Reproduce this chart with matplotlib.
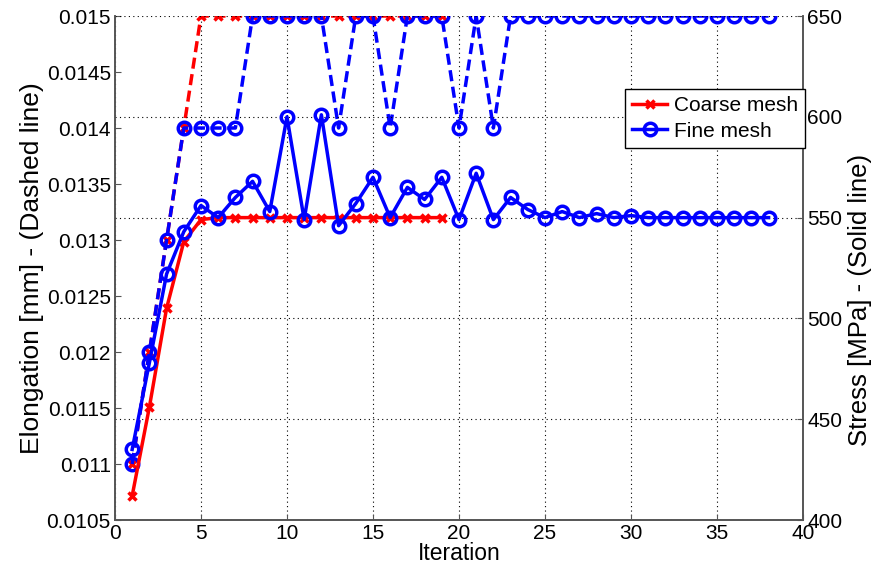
import numpy as np
import matplotlib
matplotlib.use("Agg")
import matplotlib.pyplot as plt

plt.rcParams['font.family'] = ['Liberation Sans', 'DejaVu Sans']

# iterations
it_coarse = list(range(1, 20))
it_fine = list(range(1, 39))

# elongation [mm] (dashed, left axis)
elong_coarse = [0.011, 0.012, 0.013, 0.014] + [0.015] * 15
elong_fine = [0.011, 0.012, 0.013, 0.014, 0.014, 0.014, 0.014,
              0.015, 0.015, 0.015, 0.015, 0.015, 0.014, 0.015, 0.015,
              0.014, 0.015, 0.015, 0.015, 0.014, 0.015, 0.014] + [0.015] * 16

# stress [MPa] (solid, right axis)
stress_coarse = [412, 456, 505, 538, 549] + [550] * 14
stress_fine = [435, 478, 522, 543, 556, 550, 560, 568, 553, 600,
               549, 601, 546, 557, 570, 550, 565, 559, 570, 549,
               572, 549, 560, 554, 550, 553, 550, 552, 550, 551,
               550, 550, 550, 550, 550, 550, 550, 550]

left_ticks = [0.0105, 0.011, 0.0115, 0.012, 0.0125, 0.013, 0.0135, 0.014, 0.0145, 0.015]
left_labels = ['0.0105', '0.011', '0.0115', '0.012', '0.0125', '0.013', '0.0135', '0.014', '0.0145', '0.015']
right_ticks = [400, 450, 500, 550, 600, 650]
x_ticks = [0, 5, 10, 15, 20, 25, 30, 35, 40]

RED = '#ff0000'
BLUE = '#0000ff'
SPINE = '#555555'
FS = 15

fig = plt.figure(figsize=(8.75, 5.68), dpi=100)
ax1 = fig.add_axes([0.1314, 0.0845, 0.7863, 0.8873])
ax2 = ax1.twinx()

dash = (3.2, 1.6)
lw = 2.5
ax1.plot(it_coarse, elong_coarse, color=RED, lw=lw, dashes=dash,
         marker='x', ms=6, mew=2.5)
ax1.plot(it_fine, elong_fine, color=BLUE, lw=lw, dashes=dash,
         marker='o', ms=9, mew=2.5, mfc='none')

l1, = ax2.plot(it_coarse, stress_coarse, color=RED, lw=lw, ls='-',
               marker='x', ms=6, mew=2.5, label='Coarse mesh')
l2, = ax2.plot(it_fine, stress_fine, color=BLUE, lw=lw, ls='-',
               marker='o', ms=9, mew=2.5, mfc='none', label='Fine mesh')

ax1.set_xlim(0, 40)
ax1.set_ylim(0.0105, 0.015)
ax2.set_ylim(400, 650)

ax1.set_xticks(x_ticks)
ax1.set_yticks(left_ticks)
ax1.set_yticklabels(left_labels)
ax2.set_yticks(right_ticks)

ax1.grid(axis='x', color='black', ls=(0, (1, 3)), lw=0.8)
ax2.grid(axis='y', color='black', ls=(0, (1, 3)), lw=0.8)
ax1.set_axisbelow(True)

for ax in (ax1, ax2):
    ax.spines['top'].set_visible(False)
    for s in ('left', 'right', 'bottom'):
        ax.spines[s].set_color(SPINE)
        ax.spines[s].set_linewidth(1.2)
    ax.tick_params(direction='in', length=4, color=SPINE, labelsize=FS, pad=3)

ax1.set_xlabel('Iteration', fontsize=16.5, labelpad=-1)
ax1.set_ylabel('Elongation [mm] - (Dashed line)', fontsize=19, labelpad=2)
ax2.set_ylabel('Stress [MPa] - (Solid line)', fontsize=18.5)
ax2.yaxis.set_label_coords(1.066, 0.436)

leg = ax2.legend(handles=[l1, l2], loc='upper right', bbox_to_anchor=(1.003, 0.855),
                 fontsize=FS, frameon=True, fancybox=False, edgecolor='black',
                 framealpha=1, handlelength=1.7, handletextpad=0.3,
                 borderpad=0.35, labelspacing=0.3, borderaxespad=0)
leg.get_frame().set_linewidth(1.0)

fig.savefig('out.png', dpi=100)
